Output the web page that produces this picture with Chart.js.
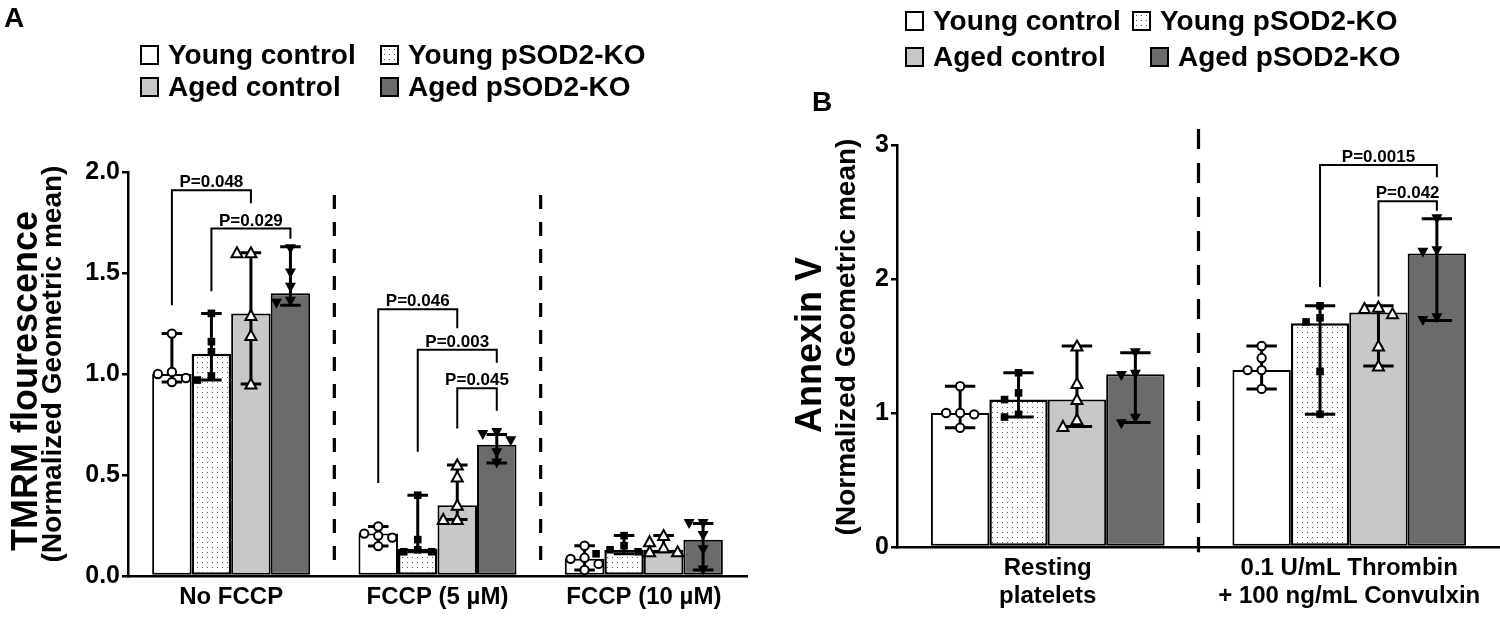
<!DOCTYPE html>
<html lang="en">
<head>
<meta charset="UTF-8">
<title>TMRM fluorescence and Annexin V</title>
<script src="https://cdn.jsdelivr.net/npm/chart.js"></script>
<style>
  body { margin: 0; background: #fff; }
  #page { position: relative; width: 1500px; height: 617px; overflow: hidden;
          font-family: "Liberation Sans", Arial, sans-serif; font-weight: bold; color: #000; }
  canvas { position: absolute; top: 0; }
  #chartA { left: 0; }
  #chartB { left: 750px; }
  .letter { position: absolute; font-size: 28px; line-height: 1; }
  .leg { position: absolute; display: flex; align-items: center; font-size: 28px; line-height: 1; white-space: nowrap; }
  .sw { width: 15px; height: 16px; border: 2px solid #000; margin-right: 9px; }
</style>
</head>
<body>
<div id="page">
  <canvas id="chartA" width="750" height="617"></canvas>
  <canvas id="chartB" width="750" height="617"></canvas>
  <div class="letter" style="left:4px;top:4px">A</div>
  <div class="letter" style="left:812px;top:88px">B</div>
</div>

<script>
// groups, in legend / bar order
const seriesNames = ['Young control', 'Young pSOD2-KO', 'Aged control', 'Aged pSOD2-KO'];
const seriesMarkers = ['circle', 'square', 'triangle', 'triangleDown'];

// panel A: TMRM (median bar, min/max whiskers, individual mice)
const catsA = ['No FCCP', 'FCCP (5 µM)', 'FCCP (10 µM)'];
const ticksA = [0, 0.5, 1.0, 1.5, 2.0];
const tickLabelsA = ['0.0', '0.5', '1.0', '1.5', '2.0'];
const medianA = [[1.00, 0.21, 0.085], [1.10, 0.135, 0.13], [1.30, 0.35, 0.13], [1.40, 0.65, 0.18]];
const lowA = [[0.96, 0.148, 0.03], [0.97, 0.12, 0.11], [0.95, 0.28, 0.12], [1.34, 0.56, 0.03]];
const highA = [[1.20, 0.245, 0.15], [1.30, 0.40, 0.20], [1.60, 0.55, 0.20], [1.63, 0.70, 0.26]];
const pointsA = [
  [[1.20, 1.01, 1.00, 0.98, 0.96], [0.245, 0.21, 0.20, 0.19, 0.148], [0.15, 0.09, 0.085, 0.06, 0.03]],
  [[1.30, 1.16, 1.11, 0.99, 0.97], [0.40, 0.18, 0.13, 0.12, 0.12], [0.20, 0.15, 0.13, 0.12, 0.11]],
  [[1.60, 1.60, 1.29, 1.19, 0.95], [0.55, 0.49, 0.35, 0.28, 0.28], [0.20, 0.17, 0.14, 0.12, 0.12]],
  [[1.62, 1.50, 1.43, 1.36, 1.35], [0.71, 0.70, 0.67, 0.61, 0.56], [0.26, 0.26, 0.20, 0.13, 0.03]]
];
// [category, from group, to group, bracket top, left leg end, right leg end, label]
const bracketsA = [
  [0, 0, 2, 1.91, 1.34, 1.845, 'P=0.048'],
  [0, 1, 3, 1.72, 1.41, 1.67, 'P=0.029'],
  [1, 0, 2, 1.32, 0.46, 1.226, 'P=0.046'],
  [1, 1, 3, 1.12, 0.615, 1.056, 'P=0.003'],
  [1, 2, 3, 0.93, 0.73, 0.818, 'P=0.045']
];

// panel B: Annexin V
const catsB = [['Resting', 'platelets'], ['0.1 U/mL Thrombin', '+ 100 ng/mL Convulxin']];
const ticksB = [0, 1, 2, 3];
const tickLabelsB = ['0', '1', '2', '3'];
const medianB = [[1.00, 1.32], [1.10, 1.67], [1.10, 1.75], [1.29, 2.19]];
const lowB = [[0.89, 1.18], [0.97, 0.99], [0.90, 1.35], [0.93, 1.69]];
const highB = [[1.20, 1.50], [1.30, 1.80], [1.50, 1.80], [1.45, 2.45]];
const pointsB = [
  [[1.20, 1.00, 1.00, 0.99, 0.89], [1.50, 1.41, 1.32, 1.32, 1.18]],
  [[1.30, 1.15, 1.10, 0.99, 0.97], [1.80, 1.71, 1.68, 1.31, 0.99]],
  [[1.50, 1.22, 1.10, 0.95, 0.90], [1.79, 1.78, 1.74, 1.50, 1.35]],
  [[1.45, 1.29, 1.28, 0.96, 0.92], [2.45, 2.21, 2.20, 1.71, 1.69]]
];
const bracketsB = [
  [1, 1, 3, 2.85, 1.94, 2.76, 'P=0.0015'],
  [1, 2, 3, 2.58, 1.87, 2.51, 'P=0.042']
];

const FONT = '"Liberation Sans", Arial, sans-serif';

// stippled fill for the young pSOD2-KO bars
const dotCanvas = document.createElement('canvas');
dotCanvas.width = 5; dotCanvas.height = 5;
const dctx = dotCanvas.getContext('2d');
dctx.fillStyle = '#fff'; dctx.fillRect(0, 0, 5, 5);
dctx.fillStyle = '#555'; dctx.fillRect(2, 2, 1, 1);
const dotPattern = dctx.createPattern(dotCanvas, 'repeat');
const seriesFills = ['#ffffff', dotPattern, '#c8c8c8', '#6b6b6b'];
const swatchCss = ['#ffffff', 'url(' + dotCanvas.toDataURL() + ')', '#c8c8c8', '#6b6b6b'];

// spread overlapping dots sideways, like a column scatter
function swarm(ys, d, thr) {
  const order = ys.map((v, i) => i).sort((a, b) => ys[a] - ys[b]);
  const offs = new Array(ys.length).fill(0);
  const placed = [];
  for (const i of order) {
    for (const c of [0, -d, d, -2 * d, 2 * d]) {
      if (placed.every(p => Math.abs(p.x - c) >= d * 0.9 || Math.abs(p.y - ys[i]) >= thr)) {
        offs[i] = c; placed.push({ x: c, y: ys[i] }); break;
      }
    }
  }
  return offs;
}

function drawMarker(ctx, kind, x, y) {
  ctx.lineWidth = 2;
  ctx.strokeStyle = '#000';
  ctx.beginPath();
  if (kind === 'circle') {
    ctx.arc(x, y, 4.2, 0, Math.PI * 2);
    ctx.fillStyle = '#fff'; ctx.fill(); ctx.stroke();
  } else if (kind === 'square') {
    ctx.fillStyle = '#000'; ctx.fillRect(x - 3.8, y - 3.8, 7.6, 7.6);
  } else if (kind === 'triangle') {
    ctx.moveTo(x, y - 5.5); ctx.lineTo(x + 5.5, y + 4.5); ctx.lineTo(x - 5.5, y + 4.5); ctx.closePath();
    ctx.fillStyle = '#fff'; ctx.fill(); ctx.stroke();
  } else {
    ctx.moveTo(x - 5.5, y - 4.5); ctx.lineTo(x + 5.5, y - 4.5); ctx.lineTo(x, y + 5.5); ctx.closePath();
    ctx.fillStyle = '#000'; ctx.fill();
  }
}

function overlayPlugin(p) {
  return {
    id: 'overlay',
    afterDatasetsDraw(chart) {
      const ctx = chart.ctx, xs = chart.scales.x, ys = chart.scales.y;
      ctx.save();
      // dashed separators between conditions
      ctx.strokeStyle = '#000'; ctx.lineWidth = 3.2; ctx.setLineDash(p.dash);
      for (let k = 0; k < chart.data.labels.length - 1; k++) {
        const px = xs.getPixelForValue(k + 0.5);
        ctx.beginPath();
        ctx.moveTo(px, ys.getPixelForValue(p.sepTop));
        ctx.lineTo(px, ys.getPixelForValue(p.sepBottom));
        ctx.stroke();
      }
      ctx.setLineDash([]);
      // whiskers and dots
      p.median.forEach((row, s) => {
        chart.getDatasetMeta(s).data.forEach((bar, c) => {
          const cx = bar.x, half = bar.width * 0.26;
          const yl = ys.getPixelForValue(p.low[s][c]), yh = ys.getPixelForValue(p.high[s][c]);
          ctx.strokeStyle = '#000'; ctx.lineWidth = 3;
          ctx.beginPath();
          ctx.moveTo(cx, yl); ctx.lineTo(cx, yh);
          ctx.moveTo(cx - half, yl); ctx.lineTo(cx + half, yl);
          ctx.moveTo(cx - half, yh); ctx.lineTo(cx + half, yh);
          ctx.stroke();
          const py = p.points[s][c].map(v => ys.getPixelForValue(v));
          const offs = swarm(py, 14, 9);
          py.forEach((v, i) => drawMarker(ctx, seriesMarkers[s], cx + offs[i], v));
        });
      });
      // significance brackets
      ctx.strokeStyle = '#000'; ctx.fillStyle = '#000'; ctx.lineWidth = 2;
      ctx.font = 'bold 17px ' + FONT;
      ctx.textAlign = 'center'; ctx.textBaseline = 'alphabetic';
      p.brackets.forEach(([cat, from, to, top, lEnd, rEnd, label]) => {
        const x1 = chart.getDatasetMeta(from).data[cat].x;
        const x2 = chart.getDatasetMeta(to).data[cat].x;
        const yt = ys.getPixelForValue(top);
        ctx.beginPath();
        ctx.moveTo(x1, ys.getPixelForValue(lEnd)); ctx.lineTo(x1, yt);
        ctx.lineTo(x2, yt); ctx.lineTo(x2, ys.getPixelForValue(rEnd));
        ctx.stroke();
        ctx.fillText(label, (x1 + x2) / 2, yt - 3);
      });
      // two-line y title
      ctx.textAlign = 'center';
      p.title.forEach(([text, size, bx, cy]) => {
        ctx.save();
        ctx.translate(bx, cy);
        ctx.rotate(-Math.PI / 2);
        ctx.font = 'bold ' + size + 'px ' + FONT;
        ctx.fillText(text, 0, 0);
        ctx.restore();
      });
      ctx.restore();
    }
  };
}

function makeChart(id, p) {
  return new Chart(document.getElementById(id), {
    type: 'bar',
    data: {
      labels: p.cats,
      datasets: p.median.map((row, s) => ({
        label: seriesNames[s],
        data: row,
        backgroundColor: seriesFills[s],
        borderColor: '#000',
        borderWidth: s === 1 ? 2.5 : 2,
        borderSkipped: false,
        barPercentage: 1.0,
        categoryPercentage: p.catPct
      }))
    },
    options: {
      responsive: false,
      animation: false,
      layout: { padding: { left: 0, right: p.padRight, top: p.top, bottom: 0 } },
      plugins: { legend: { display: false }, tooltip: { enabled: false } },
      scales: {
        x: {
          grid: { display: false, drawTicks: false },
          border: { color: '#000', width: 2.5 },
          ticks: { color: '#000', padding: 8, maxRotation: 0, autoSkip: false,
                   font: { family: FONT, size: 24, weight: 'bold', lineHeight: 1.15 } },
          afterFit: s => { s.height = p.xHeight; }
        },
        y: {
          min: 0, max: p.ticks[p.ticks.length - 1],
          afterBuildTicks: s => { s.ticks = p.ticks.map(v => ({ value: v })); },
          grid: { drawOnChartArea: false, color: '#000', lineWidth: 2.5, tickLength: 6 },
          border: { color: '#000', width: 2.5 },
          ticks: { color: '#000', padding: 2, callback: (v, i) => p.tickLabels[i],
                   font: { family: FONT, size: 25, weight: 'bold' } },
          afterFit: s => { s.width = p.yWidth; }
        }
      }
    },
    plugins: [overlayPlugin(p)]
  });
}

makeChart('chartA', {
  cats: catsA, ticks: ticksA, tickLabels: tickLabelsA,
  median: medianA, low: lowA, high: highA, points: pointsA, brackets: bracketsA,
  catPct: 0.766, top: 172, xHeight: 41, yWidth: 128, padRight: 3,
  sepTop: 1.886, sepBottom: 0.025, dash: [14, 13],
  title: [['TMRM flourescence', 36, 37, 381], ['(Normalized Geometric mean)', 28, 61, 364]]
});

makeChart('chartB', {
  cats: catsB, ticks: ticksB, tickLabels: tickLabelsB,
  median: medianB, low: lowB, high: highB, points: pointsB, brackets: bracketsB,
  catPct: 0.775, top: 145, xHeight: 70, yWidth: 147, padRight: 0,
  sepTop: 3.12, sepBottom: -0.04, dash: [20, 14],
  title: [['Annexin V', 36, 71, 345], ['(Normalized Geometric mean)', 28, 105, 337]]
});

// legends (two rows of two)
function legend(rows) {
  const page = document.getElementById('page');
  rows.forEach(([s, left, top]) => {
    const d = document.createElement('div');
    d.className = 'leg';
    d.style.left = left + 'px'; d.style.top = top + 'px';
    const sw = document.createElement('span');
    sw.className = 'sw';
    sw.style.background = swatchCss[s];
    d.appendChild(sw);
    d.appendChild(document.createTextNode(seriesNames[s]));
    page.appendChild(d);
  });
}
legend([[0, 140, 41], [1, 380, 41], [2, 140, 73], [3, 380, 73]]);
legend([[0, 905, 7], [1, 1132, 7], [2, 905, 43], [3, 1150, 43]]);
</script>
</body>
</html>
